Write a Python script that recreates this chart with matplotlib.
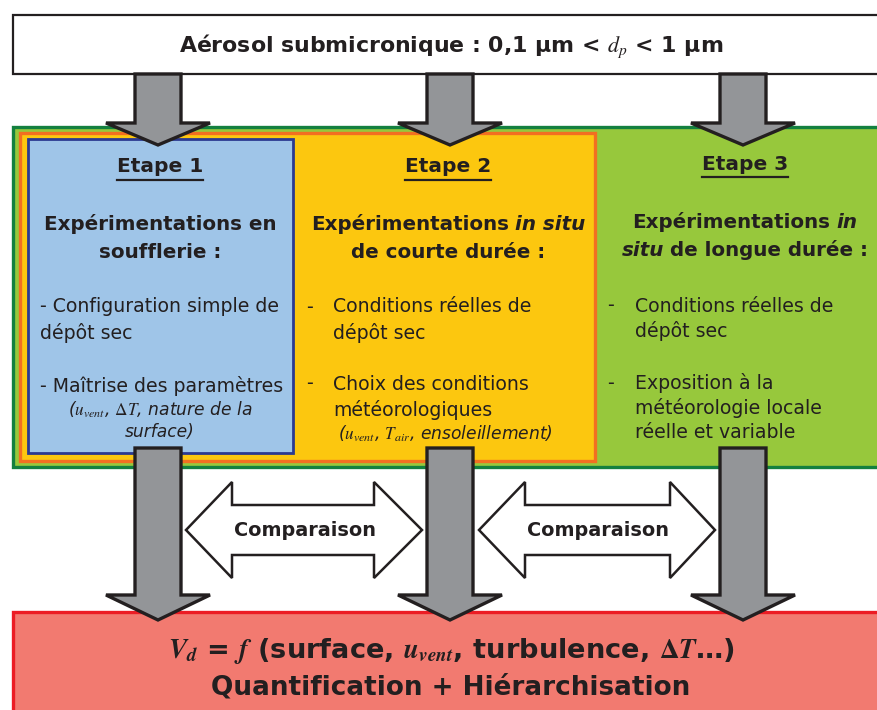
import matplotlib.pyplot as plt
from matplotlib import font_manager
from matplotlib.patches import Polygon, Rectangle

plt.rcParams["font.family"] = ["DejaVu Sans"]
plt.rcParams["mathtext.fontset"] = "stix"
# bold italic serif for the formula in the bottom box
plt.rcParams["mathtext.it"] = "STIXGeneral:italic:bold"
plt.rcParams["mathtext.rm"] = "STIXGeneral:bold"

INK = "#231F20"
names = {f.name for f in font_manager.fontManager.ttflist}
NARROW = "Liberation Sans Narrow" if "Liberation Sans Narrow" in names else "DejaVu Sans"

# --- content -------------------------------------------------------------
top_label = r"Aérosol submicronique : 0,1 µm < $d_p$ < 1 µm"
bottom_line1 = r"$V_d$ = $f$ (surface, $u_{vent}$, turbulence, $\mathit{\Delta T}$…)"
bottom_line2 = "Quantification + Hiérarchisation"
compare_label = "Comparaison"

steps = ["Etape 1", "Etape 2", "Etape 3"]
col_x = [158, 450, 743]
heads = [
    [[("Expérimentations en", "normal")], [("soufflerie :", "normal")]],
    [[("Expérimentations", "normal"), ("in situ", "italic")],
     [("de courte durée :", "normal")]],
    [[("Expérimentations", "normal"), ("in", "italic")],
     [("situ", "italic"), ("de longue durée :", "normal")]],
]
bullets_1 = ["- Configuration simple de", "dépôt sec", "- Maîtrise des paramètres"]
notes_1 = [r"($u_{vent}$, $\mathit{\Delta T}$, nature de la", "surface)"]
bullets_2 = ["Conditions réelles de", "dépôt sec", "Choix des conditions", "météorologiques"]
notes_2 = [r"($u_{vent}$, $T_{air}$, ensoleillement)"]
bullets_3 = ["Conditions réelles de", "dépôt sec", "Exposition à la",
             "météorologie locale", "réelle et variable"]

# --- figure ---------------------------------------------------------------
fig = plt.figure(figsize=(8.77, 7.10), dpi=100)
ax = fig.add_axes([0, 0, 1, 1])
ax.set_xlim(0, 877)
ax.set_ylim(710, 0)
ax.axis("off")
rend = fig.canvas.get_renderer()


def box(x0, y0, x1, y1, fc, ec, lw, z=1):
    ax.add_patch(Rectangle((x0, y0), x1 - x0, y1 - y0, facecolor=fc,
                           edgecolor=ec, linewidth=lw, zorder=z,
                           joinstyle="miter"))


def down_arrow(xc, y0, yh, ytip, z=5):
    sw, hw = 23, 52
    pts = [(xc - sw, y0), (xc + sw, y0), (xc + sw, yh), (xc + hw, yh),
           (xc, ytip), (xc - hw, yh), (xc - sw, yh)]
    ax.add_patch(Polygon(pts, closed=True, facecolor="#939598",
                         edgecolor=INK, linewidth=2.4, zorder=z,
                         joinstyle="miter"))


def double_arrow(x0, x1, xb0, xb1, yc):
    ht, st = 48, 25
    pts = [(x0, yc), (xb0, yc - ht), (xb0, yc - st), (xb1, yc - st),
           (xb1, yc - ht), (x1, yc), (xb1, yc + ht), (xb1, yc + st),
           (xb0, yc + st), (xb0, yc + ht)]
    ax.add_patch(Polygon(pts, closed=True, facecolor="white",
                         edgecolor=INK, linewidth=1.8, zorder=5,
                         joinstyle="miter"))


def fit_text(x, y, s, width, family, size=20, mfont="stix"):
    t = ax.text(x, y, s, ha="center", va="center", fontsize=size,
                fontweight="bold", family=family, color=INK, zorder=8,
                math_fontfamily=mfont)
    w = t.get_window_extent(rend).width
    t.set_fontsize(size * width / w)
    return t


def text_runs(x, y, runs, size):
    arts, widths = [], []
    for s, st in runs:
        t = ax.text(0, y, s, fontsize=size, fontweight="bold", fontstyle=st,
                    color=INK, va="center", ha="left", zorder=8)
        arts.append(t)
        widths.append(t.get_window_extent(rend).width)
    gap = size * 100 / 72 * 0.32
    x0 = x - (sum(widths) + gap * (len(runs) - 1)) / 2
    for t, w in zip(arts, widths):
        t.set_x(x0)
        x0 += w + gap


# boxes
box(13, 15, 900, 74, "white", INK, 1.6)
box(13, 127, 900, 467, "#97C83C", "#13803F", 2.4)
box(20, 133, 595, 461, "#FCC70F", "#F26F21", 2.4)
box(28, 139, 293, 453, "#9FC5E8", "#2B3990", 2.0)
box(13, 612, 900, 730, "#F27A70", "#EC1C24", 2.4)

# arrows
for xc in col_x:
    down_arrow(xc, 74, 123, 145)
    down_arrow(xc, 448, 595, 620)
double_arrow(186, 422, 232, 374, 530)
double_arrow(479, 715, 525, 670, 530)

# big texts
fit_text(451, 46, top_label, 542, NARROW)
fit_text(451, 651, bottom_line1, 567, NARROW, mfont="custom")
fit_text(451, 687, bottom_line2, 478, NARROW)
fit_text(305, 530, compare_label, 142, NARROW)
fit_text(598, 530, compare_label, 142, NARROW)

# column headers
head_y = [(224, 253), (224, 253), (222, 250)]
step_y = [167, 167, 164]
for xc, label, sy, hl, hy in zip([160, 448, 745], steps, step_y, heads, head_y):
    t = ax.text(xc, sy, label, ha="center", va="center", fontsize=14.5,
                fontweight="bold", color=INK, zorder=8)
    bb = t.get_window_extent(rend)
    ax.plot([bb.x0, bb.x1], [sy + 13, sy + 13], color=INK, lw=1.6, zorder=8)
    for runs, yy in zip(hl, hy):
        text_runs(xc, yy, runs, 14.3)

BODY = 13.6
NOTE = 12.3

# column 1 bullets
for s, yy in zip(bullets_1, [307, 333, 386]):
    ax.text(40, yy, s, ha="left", va="center", fontsize=BODY, color=INK, zorder=8)
for s, yy in zip(notes_1, [410, 432]):
    ax.text(160, yy, s, ha="center", va="center", fontsize=NOTE,
            fontstyle="italic", color=INK, zorder=8)

# column 2 bullets
for s, yy in zip(bullets_2, [307, 333, 384, 410]):
    ax.text(333, yy, s, ha="left", va="center", fontsize=BODY, color=INK, zorder=8)
for yy in [307, 384]:
    ax.text(306, yy, "-", ha="left", va="center", fontsize=BODY, color=INK, zorder=8)
ax.text(445, 434, notes_2[0], ha="center", va="center", fontsize=NOTE,
        fontstyle="italic", color=INK, zorder=8)

# column 3 bullets
for s, yy in zip(bullets_3, [306, 331, 383, 408, 433]):
    ax.text(635, yy, s, ha="left", va="center", fontsize=BODY, color=INK, zorder=8)
for yy in [306, 383]:
    ax.text(607, yy, "-", ha="left", va="center", fontsize=BODY, color=INK, zorder=8)

fig.savefig("out.png", dpi=100)
